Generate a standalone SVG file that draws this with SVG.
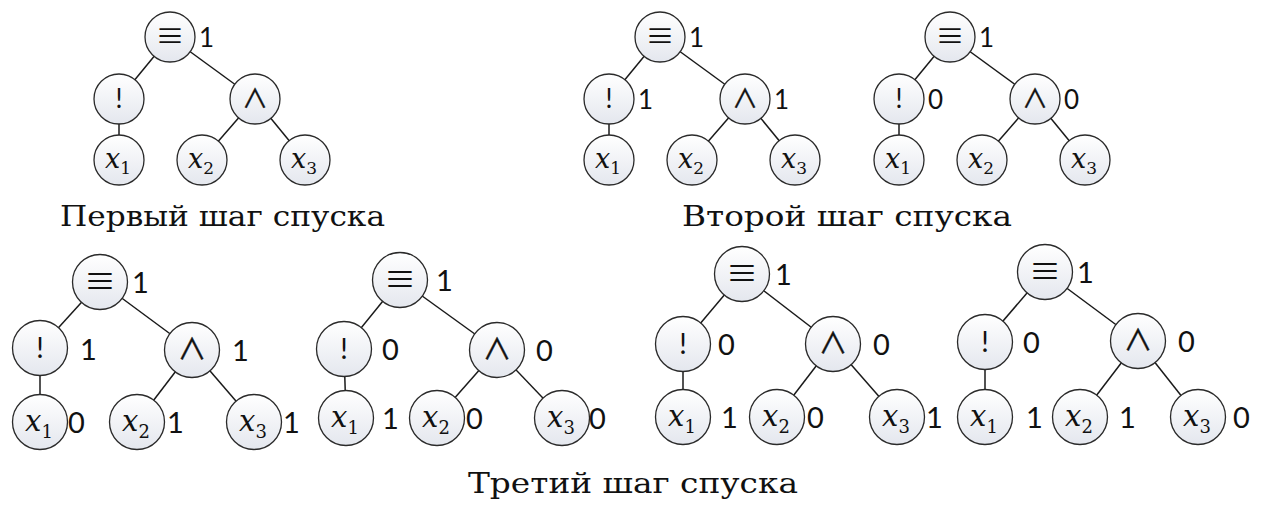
<svg xmlns="http://www.w3.org/2000/svg" width="1270" height="511" viewBox="0 0 1270 511">
<defs>
<linearGradient id="g" x1="0" y1="0" x2="0" y2="1">
<stop offset="0" stop-color="#ffffff"/>
<stop offset="1" stop-color="#e4e7ee"/>
</linearGradient>
</defs>
<style>
circle{fill:url(#g);stroke:#2a2a2a;stroke-width:1.3}
#connectors line{stroke:#1a1a1a;stroke-width:1.5}
.sym{font-family:"Noto Sans CJK SC","DejaVu Sans",sans-serif;font-size:29px;text-anchor:middle;fill:#111}
.op{font-family:"Noto Sans CJK SC","DejaVu Sans",sans-serif;font-size:26px;text-anchor:middle;fill:#111;stroke:#111;stroke-width:0.4}
.ex{font-family:Lato,"Liberation Sans",sans-serif;font-size:26px;text-anchor:middle;fill:#111}
.v{font-family:"DejaVu Serif","Liberation Serif",serif;font-style:italic;font-size:27px;text-anchor:middle;fill:#111}
.v tspan{font-style:normal;font-size:17px}
.L .sym{font-size:32px}
.L .op{font-size:29px}
.L .ex{font-size:28px}
.L .v{font-size:29px}
.L .v tspan{font-size:18px}
.val{font-family:Lato,"Liberation Sans",sans-serif;font-size:26px;fill:#111}
.L .val{font-size:29px}
.cap{font-family:"DejaVu Serif","Liberation Serif",serif;font-size:28px;fill:#111}
</style>

<g id="connectors">
<line x1="170" y1="37" x2="119" y2="99"/><line x1="170" y1="37" x2="255" y2="99"/>
<line x1="119" y1="99" x2="119" y2="160"/><line x1="255" y1="99" x2="202" y2="160"/><line x1="255" y1="99" x2="305" y2="160"/>
<line x1="660" y1="37" x2="609" y2="99"/><line x1="660" y1="37" x2="745" y2="99"/>
<line x1="609" y1="99" x2="609" y2="160"/><line x1="745" y1="99" x2="692" y2="160"/><line x1="745" y1="99" x2="795" y2="160"/>
<line x1="950" y1="37" x2="899" y2="99"/><line x1="950" y1="37" x2="1035" y2="99"/>
<line x1="899" y1="99" x2="899" y2="160"/><line x1="1035" y1="99" x2="982" y2="160"/><line x1="1035" y1="99" x2="1085" y2="160"/>
<line x1="100" y1="282" x2="40" y2="348"/><line x1="100" y1="282" x2="192" y2="350"/>
<line x1="40" y1="348" x2="40" y2="422"/><line x1="192" y1="350" x2="137" y2="422"/><line x1="192" y1="350" x2="254" y2="422"/>
<line x1="400" y1="280" x2="344" y2="349"/><line x1="400" y1="280" x2="497" y2="350"/>
<line x1="344" y1="349" x2="346" y2="418"/><line x1="497" y1="350" x2="437" y2="418"/><line x1="497" y1="350" x2="562" y2="418"/>
<line x1="742" y1="274" x2="683" y2="344"/><line x1="742" y1="274" x2="833" y2="344"/>
<line x1="683" y1="344" x2="683" y2="417"/><line x1="833" y1="344" x2="777" y2="417"/><line x1="833" y1="344" x2="897" y2="417"/>
<line x1="1045" y1="272" x2="985" y2="342"/><line x1="1045" y1="272" x2="1138" y2="341"/>
<line x1="985" y1="342" x2="985" y2="417"/><line x1="1138" y1="341" x2="1080" y2="417"/><line x1="1138" y1="341" x2="1198" y2="417"/>
</g>

<g id="tree1">
<g id="t1-eq"><circle cx="170" cy="37" r="25"/><text class="sym" x="170" y="47">≡</text><text class="val" x="199" y="47">1</text></g>
<g id="t1-not"><circle cx="119" cy="99" r="25"/><text class="ex" x="119" y="108">!</text></g>
<g id="t1-and"><circle cx="255" cy="99" r="25"/><text class="op" x="255" y="108">∧</text></g>
<g id="t1-x1"><circle cx="119" cy="160" r="25"/><text class="v" x="118" y="168">x<tspan dy="6">1</tspan></text></g>
<g id="t1-x2"><circle cx="202" cy="160" r="25"/><text class="v" x="201" y="168">x<tspan dy="6">2</tspan></text></g>
<g id="t1-x3"><circle cx="305" cy="160" r="25"/><text class="v" x="304" y="168">x<tspan dy="6">3</tspan></text></g>
</g>

<g id="tree2">
<g id="t2-eq"><circle cx="660" cy="37" r="25"/><text class="sym" x="660" y="47">≡</text><text class="val" x="689" y="47">1</text></g>
<g id="t2-not"><circle cx="609" cy="99" r="25"/><text class="ex" x="609" y="108">!</text><text class="val" x="638" y="109">1</text></g>
<g id="t2-and"><circle cx="745" cy="99" r="25"/><text class="op" x="745" y="108">∧</text><text class="val" x="774" y="109">1</text></g>
<g id="t2-x1"><circle cx="609" cy="160" r="25"/><text class="v" x="608" y="168">x<tspan dy="6">1</tspan></text></g>
<g id="t2-x2"><circle cx="692" cy="160" r="25"/><text class="v" x="691" y="168">x<tspan dy="6">2</tspan></text></g>
<g id="t2-x3"><circle cx="795" cy="160" r="25"/><text class="v" x="794" y="168">x<tspan dy="6">3</tspan></text></g>
</g>

<g id="tree3">
<g id="t3-eq"><circle cx="950" cy="37" r="25"/><text class="sym" x="950" y="47">≡</text><text class="val" x="979" y="47">1</text></g>
<g id="t3-not"><circle cx="899" cy="99" r="25"/><text class="ex" x="899" y="108">!</text><text class="val" x="928" y="109">0</text></g>
<g id="t3-and"><circle cx="1035" cy="99" r="25"/><text class="op" x="1035" y="108">∧</text><text class="val" x="1064" y="109">0</text></g>
<g id="t3-x1"><circle cx="899" cy="160" r="25"/><text class="v" x="898" y="168">x<tspan dy="6">1</tspan></text></g>
<g id="t3-x2"><circle cx="982" cy="160" r="25"/><text class="v" x="981" y="168">x<tspan dy="6">2</tspan></text></g>
<g id="t3-x3"><circle cx="1085" cy="160" r="25"/><text class="v" x="1084" y="168">x<tspan dy="6">3</tspan></text></g>
</g>

<g id="tree4" class="L">
<g id="t4-eq"><circle cx="100" cy="282" r="27.5"/><text class="sym" x="100" y="293">≡</text><text class="val" x="132" y="293">1</text></g>
<g id="t4-not"><circle cx="40" cy="348" r="27.5"/><text class="ex" x="40" y="358">!</text><text class="val" x="80" y="360">1</text></g>
<g id="t4-and"><circle cx="192" cy="350" r="27.5"/><text class="op" x="192" y="360">∧</text><text class="val" x="232" y="361">1</text></g>
<g id="t4-x1"><circle cx="40" cy="422" r="27.5"/><text class="v" x="39" y="431">x<tspan dy="7">1</tspan></text><text class="val" x="68" y="433">0</text></g>
<g id="t4-x2"><circle cx="137" cy="422" r="27.5"/><text class="v" x="136" y="431">x<tspan dy="7">2</tspan></text><text class="val" x="167" y="433">1</text></g>
<g id="t4-x3"><circle cx="254" cy="422" r="27.5"/><text class="v" x="253" y="431">x<tspan dy="7">3</tspan></text><text class="val" x="283" y="433">1</text></g>
</g>

<g id="tree5" class="L">
<g id="t5-eq"><circle cx="400" cy="280" r="27.5"/><text class="sym" x="400" y="291">≡</text><text class="val" x="436" y="291">1</text></g>
<g id="t5-not"><circle cx="344" cy="349" r="27.5"/><text class="ex" x="344" y="359">!</text><text class="val" x="382" y="360">0</text></g>
<g id="t5-and"><circle cx="497" cy="350" r="27.5"/><text class="op" x="497" y="360">∧</text><text class="val" x="536" y="361">0</text></g>
<g id="t5-x1"><circle cx="346" cy="418" r="27.5"/><text class="v" x="345" y="427">x<tspan dy="7">1</tspan></text><text class="val" x="382" y="429">1</text></g>
<g id="t5-x2"><circle cx="437" cy="418" r="27.5"/><text class="v" x="436" y="427">x<tspan dy="7">2</tspan></text><text class="val" x="466" y="429">0</text></g>
<g id="t5-x3"><circle cx="562" cy="418" r="27.5"/><text class="v" x="561" y="427">x<tspan dy="7">3</tspan></text><text class="val" x="589" y="429">0</text></g>
</g>

<g id="tree6" class="L">
<g id="t6-eq"><circle cx="742" cy="274" r="27.5"/><text class="sym" x="742" y="285">≡</text><text class="val" x="775" y="285">1</text></g>
<g id="t6-not"><circle cx="683" cy="344" r="27.5"/><text class="ex" x="683" y="354">!</text><text class="val" x="718" y="355">0</text></g>
<g id="t6-and"><circle cx="833" cy="344" r="27.5"/><text class="op" x="833" y="354">∧</text><text class="val" x="873" y="355">0</text></g>
<g id="t6-x1"><circle cx="683" cy="417" r="27.5"/><text class="v" x="682" y="426">x<tspan dy="7">1</tspan></text><text class="val" x="721" y="428">1</text></g>
<g id="t6-x2"><circle cx="777" cy="417" r="27.5"/><text class="v" x="776" y="426">x<tspan dy="7">2</tspan></text><text class="val" x="807" y="428">0</text></g>
<g id="t6-x3"><circle cx="897" cy="417" r="27.5"/><text class="v" x="896" y="426">x<tspan dy="7">3</tspan></text><text class="val" x="926" y="428">1</text></g>
</g>

<g id="tree7" class="L">
<g id="t7-eq"><circle cx="1045" cy="272" r="27.5"/><text class="sym" x="1045" y="283">≡</text><text class="val" x="1077" y="283">1</text></g>
<g id="t7-not"><circle cx="985" cy="342" r="27.5"/><text class="ex" x="985" y="352">!</text><text class="val" x="1023" y="353">0</text></g>
<g id="t7-and"><circle cx="1138" cy="341" r="27.5"/><text class="op" x="1138" y="351">∧</text><text class="val" x="1178" y="352">0</text></g>
<g id="t7-x1"><circle cx="985" cy="417" r="27.5"/><text class="v" x="984" y="426">x<tspan dy="7">1</tspan></text><text class="val" x="1026" y="428">1</text></g>
<g id="t7-x2"><circle cx="1080" cy="417" r="27.5"/><text class="v" x="1079" y="426">x<tspan dy="7">2</tspan></text><text class="val" x="1119" y="428">1</text></g>
<g id="t7-x3"><circle cx="1198" cy="417" r="27.5"/><text class="v" x="1197" y="426">x<tspan dy="7">3</tspan></text><text class="val" x="1233" y="428">0</text></g>
</g>

<g id="captions">
<text class="cap" x="60" y="226" textLength="325" lengthAdjust="spacingAndGlyphs">Первый шаг спуска</text>
<text class="cap" x="682" y="226" textLength="330" lengthAdjust="spacingAndGlyphs">Второй шаг спуска</text>
<text class="cap" x="468" y="493" textLength="330" lengthAdjust="spacingAndGlyphs">Третий шаг спуска</text>
</g>
</svg>
